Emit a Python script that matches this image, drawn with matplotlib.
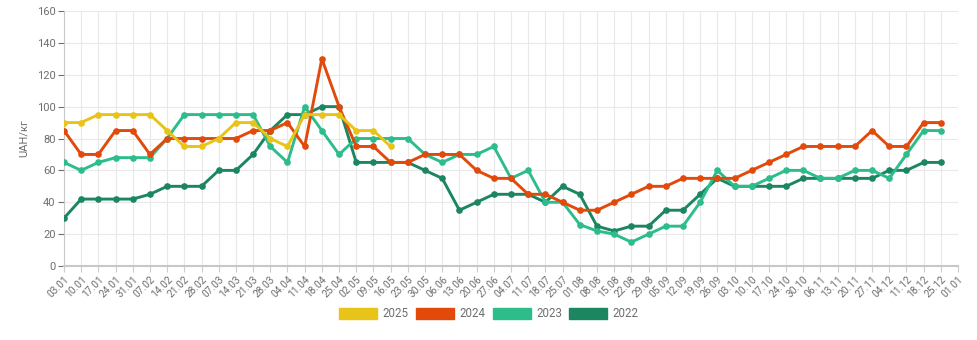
import matplotlib
matplotlib.use("Agg")
import matplotlib.pyplot as plt
from matplotlib.patches import Patch

plt.rcParams['font.family'] = ['Roboto', 'DejaVu Sans']

dates = ["03.01", "10.01", "17.01", "24.01", "31.01", "07.02", "14.02", "21.02", "28.02",
         "07.03", "14.03", "21.03", "28.03", "04.04", "11.04", "18.04", "25.04", "02.05",
         "09.05", "16.05", "23.05", "30.05", "06.06", "13.06", "20.06", "27.06", "04.07",
         "11.07", "18.07", "25.07", "01.08", "08.08", "15.08", "22.08", "29.08", "05.09",
         "12.09", "19.09", "26.09", "03.10", "10.10", "17.10", "24.10", "30.10", "06.11",
         "13.11", "20.11", "27.11", "04.12", "11.12", "18.12", "25.12", "01.01"]

prices_2025 = [90, 90, 95, 95, 95, 95, 85, 75, 75, 80, 90, 90, 80, 75, 95, 95, 95, 85, 85, 75]

prices_2024 = [85, 70, 70, 85, 85, 70, 80, 80, 80, 80, 80, 85, 85, 90, 75, 130, 100, 75,
               75, 65, 65, 70, 70, 70, 60, 55, 55, 45, 45, 40, 35, 35, 40, 45, 50, 50,
               55, 55, 55, 55, 60, 65, 70, 75, 75, 75, 75, 85, 75, 75, 90, 90]

prices_2023 = [65, 60, 65, 68, 68, 68, 80, 95, 95, 95, 95, 95, 75, 65, 100, 85, 70, 80,
               80, 80, 80, 70, 65, 70, 70, 75, 55, 60, 40, 40, 26, 22, 20, 15, 20, 25,
               25, 40, 60, 50, 50, 55, 60, 60, 55, 55, 60, 60, 55, 70, 85, 85]

prices_2022 = [30, 42, 42, 42, 42, 45, 50, 50, 50, 60, 60, 70, 85, 95, 95, 100, 100, 65,
               65, 65, 65, 60, 55, 35, 40, 45, 45, 45, 40, 50, 45, 25, 22, 25, 25, 35,
               35, 45, 55, 50, 50, 50, 50, 55, 55, 55, 55, 55, 60, 60, 65, 65]

series = [
    ("2025", prices_2025, "#e8c418"),
    ("2024", prices_2024, "#e24a0c"),
    ("2023", prices_2023, "#2dbd8b"),
    ("2022", prices_2022, "#1b8660"),
]

fig = plt.figure(figsize=(9.78, 3.4), dpi=100)
ax = fig.add_axes([0.0654, 0.2176, 0.9142, 0.750])

x_all = list(range(len(dates)))
# draw older years first so newer ones sit on top
for name, vals, color in reversed(series):
    ax.plot(range(len(vals)), vals, color=color, lw=2.1, marker='o', ms=4.8,
            markeredgewidth=0, solid_joinstyle='round', zorder=3)

ax.set_xlim(0, len(dates) - 1)
ax.set_ylim(0, 160)
ax.set_xticks(x_all)
ax.set_xticklabels(dates, rotation=45, ha='right', rotation_mode='anchor',
                   fontsize=7.3, color='#6e6e6e')
ax.set_yticks(range(0, 161, 20))
ax.tick_params(axis='y', labelsize=8, colors='#6e6e6e', length=4, width=0.8, pad=2)
ax.tick_params(axis='x', length=4, width=0.8, colors='#cccccc', pad=2)
for lbl in ax.get_xticklabels():
    lbl.set_color('#6e6e6e')
for lbl in ax.get_yticklabels():
    lbl.set_color('#6e6e6e')

ax.grid(True, color='#e9e9e9', lw=0.8, zorder=0)
ax.set_axisbelow(True)
for side in ('top', 'right'):
    ax.spines[side].set_visible(False)
ax.spines['left'].set_color('#c8c8c8')
ax.spines['left'].set_linewidth(0.8)
ax.spines['bottom'].set_color('#c8c8c8')
ax.spines['bottom'].set_linewidth(1.5)

ax.set_ylabel("UAH/кг", fontsize=8, color='#6e6e6e', labelpad=6)

handles = [Patch(facecolor=c, edgecolor=c, label=n) for n, _, c in series]
fig.legend(handles=handles, loc='center', bbox_to_anchor=(0.5, 0.078), ncol=4,
           frameon=False, fontsize=8.3, labelcolor='#6e6e6e', handlelength=3.3,
           handleheight=1.1, handletextpad=0.45, columnspacing=0.65)

fig.savefig("out.png", dpi=100)
